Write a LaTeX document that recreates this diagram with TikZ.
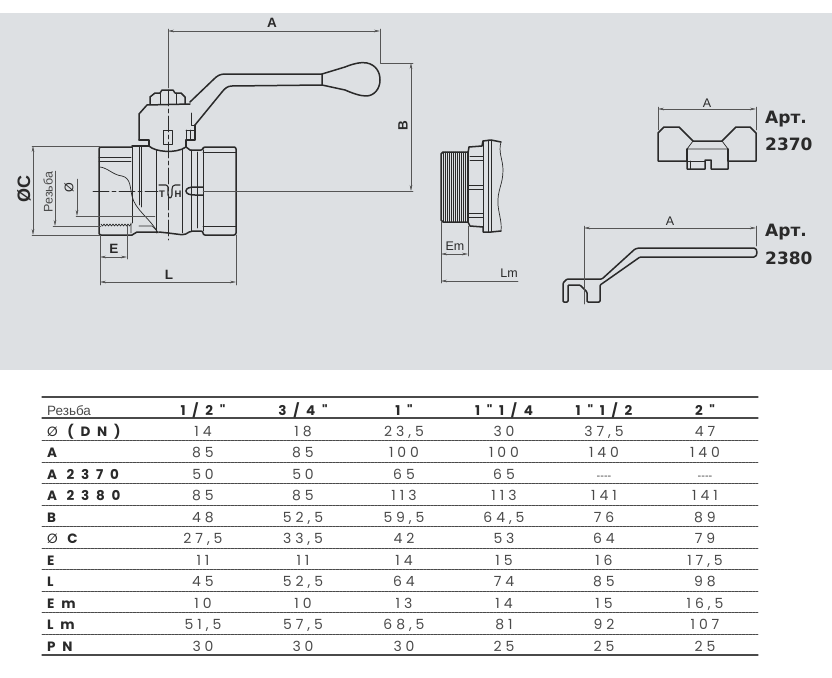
\documentclass[tikz,border=0pt]{standalone}
\usepackage{fontspec}
\usetikzlibrary{arrows.meta}
\setmainfont{Liberation Sans}
\newfontfamily\valfont[LetterSpace=28]{Poppins}
\newfontfamily\headfont[LetterSpace=50]{Poppins}
\newfontfamily\artfont{DejaVu Sans Bold}
\newcommand{\nodata}{{\fontsize{11}{11}\rmfamily\mdseries{-}{-}{-}{-}}}
\definecolor{panelgray}{HTML}{DDE0E3}
\definecolor{inkgray}{HTML}{2A2A2A}
\definecolor{valgray}{HTML}{4A4A4A}
\tikzset{
	outline/.style={draw=inkgray,line width=1.5pt},
	detail/.style={draw=inkgray,line width=.7pt},
	dimline/.style={draw=inkgray!80,line width=.5pt},
	axisline/.style={draw=inkgray,line width=.6pt,dash pattern=on 16pt off 3pt on 4pt off 3pt},
	dimlabel/.style={font=\fontsize{13.5}{14}\selectfont\bfseries,text=inkgray,inner sep=0pt},
	sidelabel/.style={font=\fontsize{12.5}{13}\selectfont,text=inkgray,inner sep=0pt},
	marklabel/.style={font=\fontsize{9.5}{10}\selectfont\bfseries,text=inkgray,inner sep=0pt},
	artlabel/.style={font=\fontsize{17}{17}\artfont,text=inkgray,inner sep=0pt,anchor=west},
	cell/.style={font=\fontsize{14}{14}\valfont,text=valgray,inner sep=0pt,anchor=base},
	headcell/.style={font=\fontsize{13.5}{14}\headfont\bfseries,text=inkgray,inner sep=0pt,anchor=base},
	rowlabel/.style={font=\fontsize{13.5}{14}\headfont\bfseries,text=inkgray,inner sep=0pt,anchor=base west},
	dotrule/.style={draw=valgray,line width=.7pt,dash pattern=on .7pt off .7pt},
	solidrule/.style={draw=valgray,line width=1.1pt}
}
\begin{document}
\begin{tikzpicture}[x=1pt,y=-1pt,line join=round,line cap=round,>={Stealth[length=6pt,width=2.6pt]}]
	\useasboundingbox (0,0) rectangle (832,677);
	\fill[panelgray] (0,13) rectangle (832,370);
	% dimension points
	\coordinate (axisL) at (93,191);
	\coordinate (axisR) at (413,191);
	\coordinate (stemT) at (168,29);
	\coordinate (stemB) at (168,240);
	% ball valve, lever
	\draw[outline,fill=panelgray] (322,74)--(345,67) .. controls (355,63) and (362,62) .. (367,63)
		.. controls (376,65) and (380,72) .. (380,80) .. controls (380,89) and (374,96) .. (366,96)
		.. controls (360,96) and (352,93) .. (345,90)--(322,85)--cycle;
	\draw[outline] (322,74)--(225,74) .. controls (220,74) and (217,76) .. (214,79)--(190,102);
	\draw[outline] (322,85)--(232,86) .. controls (228,86) and (225,88) .. (222,92)--(195,125);
	% cap and nut
	\draw[outline] (139,140)--(139,114)--(147,105)--(190,104);
	\draw[outline] (150,104)--(150,97)--(155,93)--(160,93)--(162,90)--(173,90)--(175,93)--(181,93)--(185,97)--(185,104);
	\draw[detail] (160,93)--(160,104) (176,93)--(176,104);
	\draw[outline] (195,125)--(195,140)--(186,140)--(186,147);
	\draw[detail] (191,113)--(191,125)--(195,125) (186,130)--(195,130) (190,130)--(190,140) (186,130)--(186,140);
	\draw[outline] (139,140)--(149,140)--(149,146)--(132,146);
	\draw[detail,line width=.8pt] (163,130) rectangle (172,144);
	% body of the valve
	\draw[outline,rounded corners=2pt] (132,147)--(99,147)--(99,235)--(132,235);
	\draw[outline,rounded corners=2pt] (190,150)--(203,150)--(203,147)--(236,147)--(236,235)--(203,235)--(203,231)--(191,231)--(184,235)--(168,233)--(159,232);
	\draw[outline] (149,146) .. controls (155,152) and (176,154) .. (186,147)--(190,150);
	\draw[detail] (156,150)--(156,233) (182,149)--(182,233) (191,150)--(191,231) (197,152)--(197,228) (203,150)--(203,231);
	\draw[detail] (132,147)--(132,223) (139,147)--(139,205) (141,147)--(141,207);
	\draw[detail] (99,157)--(131,157) (99,161)--(131,161) (203,152)--(236,152) (203,226)--(236,226);
	\draw[outline] (132,235)--(137,232)--(158,232);
	% cut-away edge and thread
	\draw[detail] (100,167) .. controls (108,168) and (113,175) .. (122,176)
		.. controls (131,178) and (130,188) .. (132,196) .. controls (135,210) and (150,218) .. (158,233);
	\draw[detail] (101,224) \foreach \i in {0,...,9} {--++(1.5,2)--++(1.5,-2)};
	\draw[detail] (131,223)--(131,233) (139,226)--(152,226)--(157,231);
	\draw[outline] (186,191) .. controls (186,188) and (190,187) .. (195,187)--(203,187);
	\draw[outline] (186,191) .. controls (186,194) and (190,195) .. (195,195)--(203,195);
	% axes of the valve
	\draw[axisline] (axisL)--(158,191);
	\draw[dimline] (203,191)--(axisR);
	\draw[dimline] (stemT)--(168,88);
	\draw[axisline] (168,90)--(stemB);
	% trade mark on the body
	\draw[detail,line width=1.1pt] (159,185)--(166,185) .. controls (168,185) and (168,187) .. (168,189)--(168,195) .. controls (169,199) and (171,199) .. (172,195)--(172,189) .. controls (172,187) and (173,185) .. (175,185)--(180,185);
	\node[marklabel] (tmT) at (162,194.5) {T};
	\node[marklabel] (tmH) at (178,194.5) {H};
	% dimensions of the valve
	\draw[dimline,<->] (168,31)--(380,31);
	\draw[dimline] (380,29)--(380,63)--(413,63);
	\node[dimlabel] (lblA) at (272,23) {A};
	\draw[dimline,<->] (411,63)--(411,191);
	\node[dimlabel,rotate=90] (lblB) at (403,126) {B};
	\draw[dimline] (32,146)--(100,146) (32,235)--(100,235);
	\draw[dimline,<->] (33,146)--(33,235);
	\node[dimlabel,rotate=90,font=\fontsize{18}{18}\selectfont\bfseries] (lblC) at (24,189) {ØC};
	\draw[dimline,->] (55,171)--(55,226);
	\draw[dimline] (53,226)--(101,226);
	\node[sidelabel,rotate=90,text=valgray] (lblThread) at (48,192) {Резьба};
	\draw[dimline,->] (77,179)--(77,216);
	\draw[dimline] (76,216)--(155,216);
	\node[sidelabel,rotate=90] (lblBore) at (69,188) {Ø};
	\draw[dimline] (100,235)--(100,285) (236,235)--(236,285) (127,225)--(127,259);
	\draw[dimline,<->] (100,257)--(127,257);
	\node[dimlabel] (lblE) at (114,249) {E};
	\draw[dimline,<->] (100,282)--(236,282);
	\node[dimlabel] (lblL) at (169,275) {L};
	% threaded end
	\foreach \x in {443,445,...,467}
		\draw[detail,line width=.5pt] (\x,152)--(\x,222);
	\draw[outline] (468,152)--(443,152)--(441,154)--(441,220)--(443,222)--(468,222);
	\draw[outline] (468,222)--(468,152);
	\draw[outline] (468,153)--(469,147)--(482,146)--(483,141)--(491,140)--(501,142);
	\draw[outline] (468,222)--(470,226)--(483,227)--(483,232)--(491,232)--(501,231);
	\draw[detail] (501,142) .. controls (498,152) and (503,160) .. (503,170) .. controls (503,185) and (497,190) .. (498,205) .. controls (499,215) and (502,222) .. (501,231);
	\draw[detail] (483,141)--(483,232) (488,140)--(488,232) (491,140)--(491,232);
	\draw[detail] (470,156)--(483,156) (470,160)--(483,160) (469,185)--(483,185) (469,189)--(483,189) (469,213)--(483,213) (469,217)--(483,217);
	\draw[dimline] (441,222)--(441,283) (468,226)--(468,256);
	\draw[dimline,<->] (441,254)--(468,254);
	\node[sidelabel] (lblEm) at (455,246) {Em};
	\draw[dimline,<-] (441,281)--(518,281);
	\node[sidelabel] (lblLm) at (509,273) {Lm};
	% butterfly handle
	\draw[outline] (658,161)--(658,133)--(664,127)--(679,127)--(693,141)--(722,141)--(736,127)--(750,127)--(756,133)--(756,161)--(728,161)--(728,169)--(711,169)--(711,160)--(705,160)--(705,169)--(687,169)--(687,161)--cycle;
	\draw[detail] (693,141)--(687,149)--(728,149)--(722,141);
	\draw[outline] (687,149)--(687,161) (728,149)--(728,161);
	\draw[detail] (690,161)--(690,169) (687,161)--(705,161);
	\draw[dimline] (658,107)--(658,130) (756,107)--(756,130);
	\draw[dimline,<->] (658,109)--(756,109);
	\node[sidelabel] (lblA70) at (707,103) {A};
	\node[artlabel] (art70a) at (765,119) {Арт.};
	\node[artlabel] (art70b) at (765,144) {2370};
	% flat lever
	\draw[outline,rounded corners=1pt] (563,302)--(563,283)--(567,279)--(602,279)--(635,249)--(639,248)--(753,248) .. controls (758,248) and (758,257) .. (753,257)--(640,257)--(603,283)--(600,285)--(600,302)--(587,302)--(587,292)--(580,285)--(568,285)--(568,302)--cycle;
	\draw[dimline] (584,226)--(584,304) (756,226)--(756,246);
	\draw[dimline,<->] (584,228)--(756,228);
	\node[sidelabel] (lblA80) at (670,221) {A};
	\node[artlabel] (art80a) at (765,232) {Арт.};
	\node[artlabel] (art80b) at (765,258) {2380};
	% table rules
	\draw[solidrule] (42,397)--(758,397) (42,418)--(758,418) (42,655)--(758,655);
	\foreach \y in {440,462,483,505,526,548,569,591,612,634}
		\draw[dotrule] (42,\y)--(758,\y);
	% table head
	\node[anchor=base west,inner sep=0pt,font=\fontsize{13.5}{14}\selectfont,text=valgray] (headThread) at (47,415) {Резьба};
	\foreach \x/\nx [count=\c] in {203/{1/2"},303/{3/4"},404/{1"},504/{1"1/4},604/{1"1/2},705/{2"}}
		\node[headcell] (head\c) at (\x,415) {\nx};
	% table rows
	\foreach \y/\nr/\nlab/\na/\nb/\nc/\nd/\ne/\nf in {
		436/1/{{\mdseries Ø} (DN)}/14/18/{23,5}/30/{37,5}/47,
		457/2/A/85/85/100/100/140/140,
		479/3/A 2370/50/50/65/65/\nodata/\nodata,
		500/4/A 2380/85/85/113/113/141/141,
		522/5/B/48/{52,5}/{59,5}/{64,5}/76/89,
		543/6/{{\mdseries Ø} C}/{27,5}/{33,5}/42/53/64/79,
		565/7/E/11/11/14/15/16/{17,5},
		586/8/L/45/{52,5}/64/74/85/98,
		608/9/Em/10/10/13/14/15/{16,5},
		629/10/Lm/{51,5}/{57,5}/{68,5}/81/92/107,
		651/11/PN/30/30/30/25/25/25}{
		\node[rowlabel] (lab\nr) at (47,\y) {\nlab};
		\node[cell] (val\nr a) at (203,\y) {\na};
		\node[cell] (val\nr b) at (303,\y) {\nb};
		\node[cell] (val\nr c) at (404,\y) {\nc};
		\node[cell] (val\nr d) at (504,\y) {\nd};
		\node[cell] (val\nr e) at (604,\y) {\ne};
		\node[cell] (val\nr f) at (705,\y) {\nf};
	}
\end{tikzpicture}
\end{document}
